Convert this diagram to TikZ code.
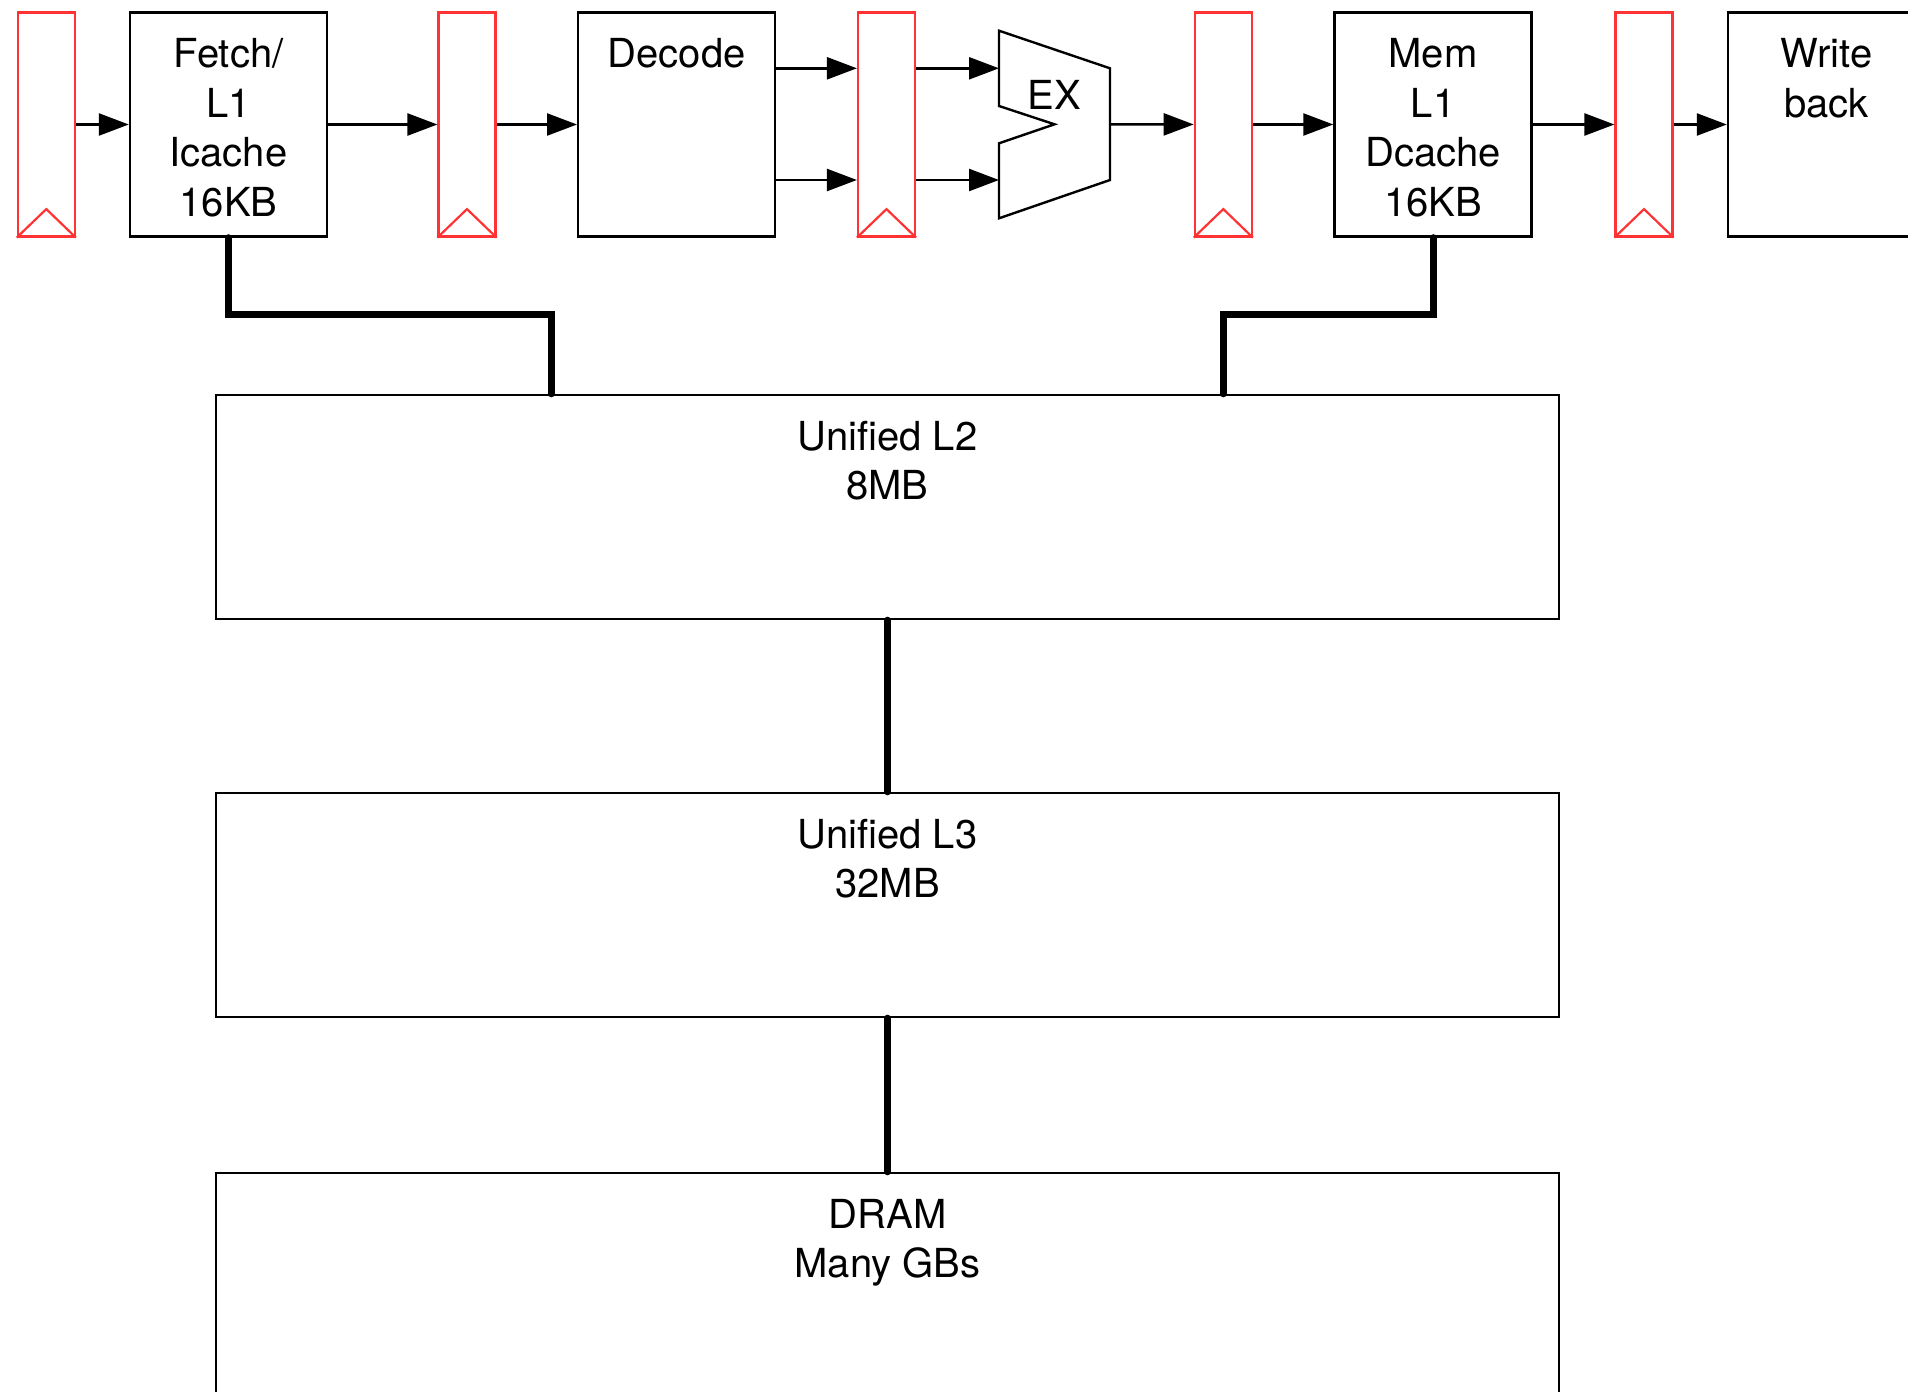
\documentclass[tikz,border=0pt]{standalone}
\usepackage{fontspec}
\setmainfont{TeX Gyre Heros}
\usepackage{tikz}
\usetikzlibrary{arrows.meta,positioning,calc}
\definecolor{regred}{HTML}{FF3333}

\begin{document}
\begin{tikzpicture}[
  x=0.5pt, y=-0.5pt,
  stage/.style={draw, line width=1.2pt, minimum width=98.5pt, minimum height=112pt, inner sep=0pt},
  pipereg/.style={draw=regred, line width=1.1pt, minimum width=28.5pt, minimum height=112pt, inner sep=0pt},
  cachebox/.style={draw, line width=1.2pt, minimum width=671.5pt, minimum height=112pt, inner sep=0pt},
  lbl/.style={font=\fontsize{20}{24.75}\selectfont, align=center, inner sep=0pt},
  arr/.style={-{Triangle[length=15pt, width=11pt]}, line width=1.2pt},
  bus/.style={line width=3.5pt, line cap=round}
]
  \useasboundingbox (0,0) rectangle (1908,1392);
  \clip (0,0) rectangle (1908,1392);

  \foreach \n/\x in {r1/46.3, r2/467, r3/886.5, r4/1223.3, r5/1644} {
    \node[pipereg] (\n) at (\x,124.5) {};
    \draw[regred, line width=1.1pt] (\n.south west) -- ([yshift=14.25pt]\n.south) -- (\n.south east);
  }

  \node[stage] (fetch) at (228.5,124.5) {};
  \node[stage] (decode) at (676.7,124.5) {};
  \node[stage] (mem) at (1433,124.5) {};
  \node[stage] (wb) at (1826.5,124.5) {};
  \node[lbl, below=13.5pt of fetch.north] (fetchlbl) {Fetch/\\L1\\Icache\\16KB};
  \node[lbl, below=13.5pt of decode.north] (decodelbl) {Decode};
  \node[lbl, below=13.5pt of mem.north] (memlbl) {Mem\\L1\\Dcache\\16KB};
  \node[lbl, below=13.5pt of wb.north] (wblbl) {Write\\back};

  \draw[line width=1.2pt, line join=miter] (999,30.7) -- (1110,68.3) -- (1110,180) -- (999,218.3)
    -- (999,143.3) -- (1054.5,124.3) -- (999,106) -- cycle;
  \coordinate (exin1) at (999,68.3);
  \coordinate (exin2) at (999,180);
  \coordinate (exout) at (1110,124.3);
  \node[lbl] (exlbl) at (1054,95) {EX};

  \foreach \c in {exin1, exin2} {
    \draw[arr] (decode.east |- \c) -- (r3.west |- \c);
    \draw[arr] (r3.east |- \c) -- (\c);
  }
  \foreach \a/\b in {r1/fetch, fetch/r2, r2/decode, exout/r4, r4/mem, mem/r5, r5/wb} {
    \draw[arr] (\a) -- (\b);
  }

  \node[cachebox] (l2) at (887.5,507) {};
  \node[cachebox] (l3) at (887.5,905) {};
  \node[cachebox] (dram) at (887.5,1285) {};
  \node[lbl, below=13.5pt of l2.north] (l2lbl) {Unified L2\\8MB};
  \node[lbl, below=13.5pt of l3.north] (l3lbl) {Unified L3\\32MB};
  \node[lbl, below=13.5pt of dram.north] (dramlbl) {DRAM\\Many GBs};

  \coordinate (ibus) at (551,314);
  \coordinate (dbus) at (1223,314);
  \draw[bus] (fetch.south) |- (ibus) -- (ibus |- l2.north);
  \draw[bus] (mem.south) |- (dbus) -- (dbus |- l2.north);
  \draw[bus] (l2) -- (l3);
  \draw[bus] (l3) -- (dram);
\end{tikzpicture}
\end{document}
